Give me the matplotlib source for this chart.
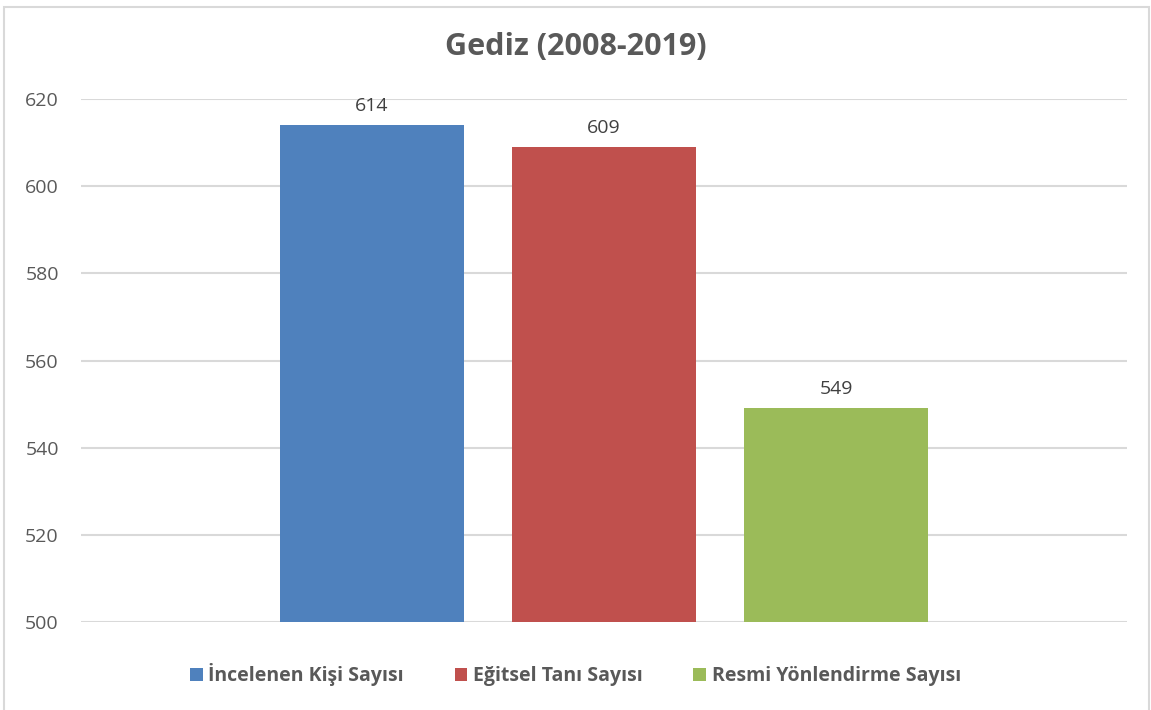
import matplotlib.pyplot as plt
from matplotlib.patches import Rectangle

# chart values
title = "Gediz (2008-2019)"
series_names = ["İncelenen Kişi Sayısı", "Eğitsel Tanı Sayısı", "Resmi Yönlendirme Sayısı"]
values = [614, 609, 549]
colors = ["#4F81BD", "#C0504D", "#9BBB59"]
yticks = [500, 520, 540, 560, 580, 600, 620]

plt.rcParams['font.family'] = ['Open Sans', 'DejaVu Sans']

fig = plt.figure(figsize=(11.51, 7.10), dpi=100)
ax = fig.add_axes([81/1151, 1 - 622/710, 1046/1151, 523/710])

positions = [-1, 0, 1]
for pos, val, col, name in zip(positions, values, colors, series_names):
    ax.bar(pos, val - 500, bottom=500, width=0.789, color=col, label=name, zorder=3)
    ax.text(pos, val + 2.3, str(val), ha='center', va='bottom', fontsize=14, color='#404040')

ax.set_xlim(-2.254, 2.254)
ax.set_ylim(500, 620)
ax.set_yticks(yticks)
ax.set_xticks([])
ax.tick_params(axis='y', length=0, labelsize=14, labelcolor='#595959', pad=16)
ax.grid(axis='y', color='#D9D9D9', linewidth=1.5, zorder=0)
for s in ax.spines.values():
    s.set_visible(False)

fig.text(0.5, 1 - 47/710, title, ha='center', va='center', fontsize=22,
         fontweight='bold', color='#595959')

leg = fig.legend(loc='center', bbox_to_anchor=(0.5, 1 - 675/710), ncol=3, frameon=False,
                 handlelength=0.65, handleheight=0.65, handletextpad=0.3, columnspacing=2.6,
                 prop={'size': 14, 'weight': 'bold'})
for t in leg.get_texts():
    t.set_color('#595959')

# light chart border
fig.patches.append(Rectangle((4/1151, -0.01), 1 - 6/1151, 1.0, transform=fig.transFigure,
                             fill=False, edgecolor='#D9D9D9', linewidth=1.5))

fig.savefig('out.png', dpi=100)
